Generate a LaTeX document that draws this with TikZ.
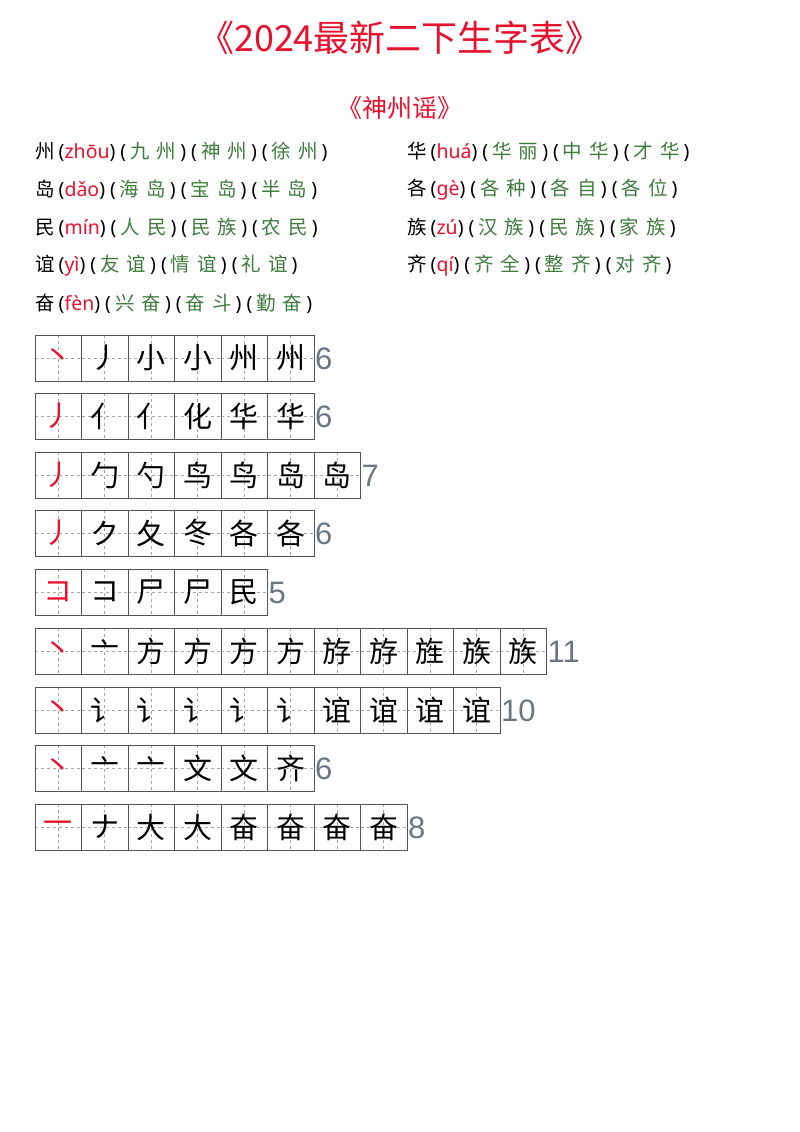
\documentclass[tikz,border=0pt]{standalone}
\usepackage{fontspec}
\setmainfont{Noto Sans}
\newfontfamily\cjk{Noto Sans CJK SC}
\newfontfamily\lat{Liberation Sans}
\definecolor{tred}{HTML}{E8112D}
\definecolor{pgreen}{HTML}{3E7D3E}
\definecolor{cnt}{HTML}{6E7582}
\definecolor{gline}{HTML}{555555}
\newcommand{\gridrow}[5]{% name, ytop, n, count, list
  \foreach \g [count=\i] in {#5}{
    \pgfmathsetmacro\xl{35+(\i-1)*46.5}
    \draw[dashed,gray!70,line width=0.6pt] (\xl+23.25,#2) -- (\xl+23.25,#2+46);
    \draw[dashed,gray!70,line width=0.6pt] (\xl,#2+23) -- (\xl+46.5,#2+23);
    \draw[gline,line width=1pt] (\xl,#2) rectangle (\xl+46.5,#2+46);
    \ifnum\i=1
      \node[glyph,text=tred] (#1c\i) at (\xl+23.25,#2+23) {\g};
    \else
      \node[glyph] (#1c\i) at (\xl+23.25,#2+23) {\g};
    \fi
  }
  \node[cntlab] (#1n) at (35+#3*46.5,#2+24) {#4};
}
\newcommand{\pw}[2]{\hspace{5pt}(\hspace{4pt}{\color{pgreen}\cjk #1\hspace{7pt}#2}\hspace{4pt})}
\begin{document}
\begin{tikzpicture}[x=1pt,y=-1pt,
  glyph/.style={font=\cjk\fontsize{29}{29}\selectfont,inner sep=0pt},
  cntlab/.style={font=\lat\fontsize{31}{31}\selectfont,text=cnt,anchor=west,inner sep=1pt},
  line/.style={anchor=west,inner sep=0pt,font=\fontsize{19.5}{19.5}\selectfont}]
\useasboundingbox[fill=white] (0,0) rectangle (800,1132);
\node[text=tred,font=\cjk\fontsize{36}{36}\selectfont] (title) at (400,38) {《2024最新二下生字表》};
\node[text=tred,font=\cjk\fontsize{25}{25}\selectfont] (sub) at (400,108) {《神州谣》};
\newcommand{\wline}[6]{\node[line] (#1) at (#2,#3) {{\cjk #4}\hspace{4pt}({\color{tred}#5})#6};}
\wline{l1}{35}{152}{州}{zhōu}{\pw{九}{州}\pw{神}{州}\pw{徐}{州}}
\wline{l2}{35}{190}{岛}{dǎo}{\pw{海}{岛}\pw{宝}{岛}\pw{半}{岛}}
\wline{l3}{35}{228}{民}{mín}{\pw{人}{民}\pw{民}{族}\pw{农}{民}}
\wline{l4}{35}{266}{谊}{yì}{\pw{友}{谊}\pw{情}{谊}\pw{礼}{谊}}
\wline{l5}{35}{304}{奋}{fèn}{\pw{兴}{奋}\pw{奋}{斗}\pw{勤}{奋}}
\wline{r1}{407}{152}{华}{huá}{\pw{华}{丽}\pw{中}{华}\pw{才}{华}}
\wline{r2}{407}{190}{各}{gè}{\pw{各}{种}\pw{各}{自}\pw{各}{位}}
\wline{r3}{407}{228}{族}{zú}{\pw{汉}{族}\pw{民}{族}\pw{家}{族}}
\wline{r4}{407}{266}{齐}{qí}{\pw{齐}{全}\pw{整}{齐}\pw{对}{齐}}
\gridrow{a}{335}{6}{6}{丶,丿,小,小,州,州}
\gridrow{b}{393}{6}{6}{丿,亻,亻,化,华,华}
\gridrow{c}{452}{7}{7}{丿,勹,勺,鸟,鸟,岛,岛}
\gridrow{d}{510}{6}{6}{丿,ク,夂,冬,各,各}
\gridrow{e}{569}{5}{5}{コ,コ,尸,尸,民}
\gridrow{f}{628}{11}{11}{丶,亠,方,方,方,方,斿,斿,旌,族,族}
\gridrow{g}{687}{10}{10}{丶,讠,讠,讠,讠,讠,谊,谊,谊,谊}
\gridrow{h}{745}{6}{6}{丶,亠,亠,文,文,齐}
\gridrow{i}{804}{8}{8}{一,ナ,大,大,奋,奋,奋,奋}
\end{tikzpicture}
\end{document}
